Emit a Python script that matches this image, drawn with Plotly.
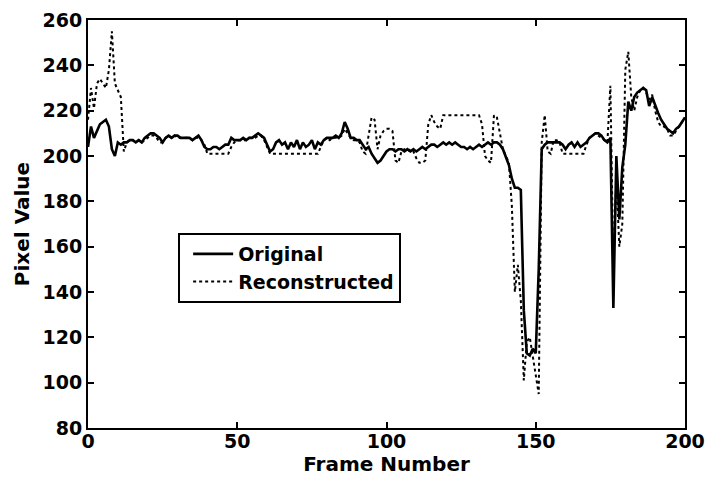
import plotly.graph_objects as go

# Frame index and pixel values for the two series
frames = list(range(0, 201))

original = [
    204, 213, 208, 211, 214, 215, 216, 213, 203, 200,
    206, 205, 206, 206, 207, 207, 206, 207, 206, 208,
    209, 210, 210, 209, 208, 206, 208, 209, 208, 209,
    209, 208, 208, 208, 208, 207, 208, 209, 207, 204,
    203, 203, 204, 204, 203, 204, 205, 205, 208, 207,
    207, 207, 208, 207, 208, 208, 209, 210, 209, 208,
    205, 202, 203, 206, 207, 205, 206, 203, 206, 204,
    207, 203, 206, 204, 205, 207, 203, 206, 205, 207,
    208, 208, 208, 209, 208, 210, 215, 212, 208, 208,
    207, 207, 205, 203, 204, 201, 199, 197, 198, 200,
    202, 203, 203, 202, 203, 203, 202, 203, 202, 203,
    202, 203, 204, 203, 204, 205, 205, 204, 205, 206,
    205, 206, 205, 206, 205, 204, 204, 203, 204, 203,
    204, 205, 204, 205, 206, 205, 206, 206, 205, 203,
    199, 196, 190, 186, 186, 185, 132, 113, 112, 115,
    113, 150, 203, 205, 206, 206, 206, 206, 206, 205,
    203, 205, 206, 204, 206, 204, 205, 206, 208, 209,
    210, 210, 209, 207, 206, 208, 133, 200, 172, 195,
    205, 224, 220, 226, 228, 229, 230, 229, 222, 226,
    222, 219, 216, 214, 212, 211, 210, 212, 213, 215,
    217,
]

reconstructed = [
    216, 230, 221, 232, 234, 232, 230, 238, 255, 232,
    229, 226, 202, 206, 207, 207, 206, 207, 206, 207,
    208, 209, 209, 208, 206, 206, 208, 209, 208, 209,
    208, 208, 208, 208, 208, 207, 208, 208, 207, 205,
    201, 201, 201, 201, 201, 201, 201, 201, 204, 206,
    207, 207, 207, 207, 208, 208, 208, 209, 209, 207,
    204, 201, 201, 201, 201, 201, 201, 201, 201, 201,
    201, 201, 201, 201, 201, 201, 201, 201, 204, 207,
    208, 207, 208, 208, 208, 209, 212, 210, 208, 207,
    207, 206, 202, 201, 210, 217, 216, 203, 209, 211,
    212, 212, 211, 198, 197, 202, 203, 202, 203, 202,
    199, 197, 197, 198, 214, 218, 215, 213, 212, 218,
    218, 218, 218, 218, 218, 218, 218, 218, 218, 218,
    218, 218, 214, 200, 198, 197, 218, 217, 210, 203,
    200, 197, 178, 140, 152, 136, 101, 118, 120, 112,
    104, 95, 206, 218, 202, 201, 207, 207, 206, 201,
    201, 201, 201, 201, 201, 201, 201, 205, 208, 209,
    210, 209, 208, 207, 206, 231, 150, 190, 160, 170,
    238, 246, 226, 220, 226, 229, 230, 228, 225, 227,
    220, 215, 213, 213, 212, 209, 209, 211, 213, 215,
    217,
]

x_ticks = [0, 50, 100, 150, 200]
y_ticks = [80, 100, 120, 140, 160, 180, 200, 220, 240, 260]

FONT = "DejaVu Sans"


def bold(size):
    return dict(family=FONT, size=size, color="black", weight="bold")


fig = go.Figure()
fig.add_trace(go.Scatter(
    x=frames, y=original, mode="lines", name="Original",
    line=dict(color="black", width=2.6),
))
fig.add_trace(go.Scatter(
    x=frames, y=reconstructed, mode="lines", name="Reconstructed",
    line=dict(color="black", width=2, dash="dot"),
))

axis_common = dict(
    showline=True, linecolor="black", linewidth=2, mirror="ticks",
    ticks="inside", ticklen=6, tickwidth=1.5, tickcolor="black",
    showgrid=False, zeroline=False, automargin=False,
    tickfont=bold(19),
)

fig.update_layout(
    width=705, height=478,
    margin=dict(l=88, r=20, t=20, b=50),
    paper_bgcolor="white", plot_bgcolor="white",
    showlegend=True,
    legend=dict(
        x=0.151, y=0.478, xanchor="left", yanchor="top",
        bordercolor="black", borderwidth=2, bgcolor="white",
        font=bold(19), tracegroupgap=0, itemwidth=40,
        indentation=8,
    ),
    xaxis=dict(
        range=[0, 200], tickvals=x_ticks, ticklabelstandoff=-5,
        title=dict(text="Frame Number", standoff=2, font=bold(20)),
        **axis_common,
    ),
    yaxis=dict(
        range=[80, 260], tickvals=y_ticks,
        title=dict(text="Pixel Value", standoff=8, font=bold(20)),
        **axis_common,
    ),
)

fig.write_html("out.html")
